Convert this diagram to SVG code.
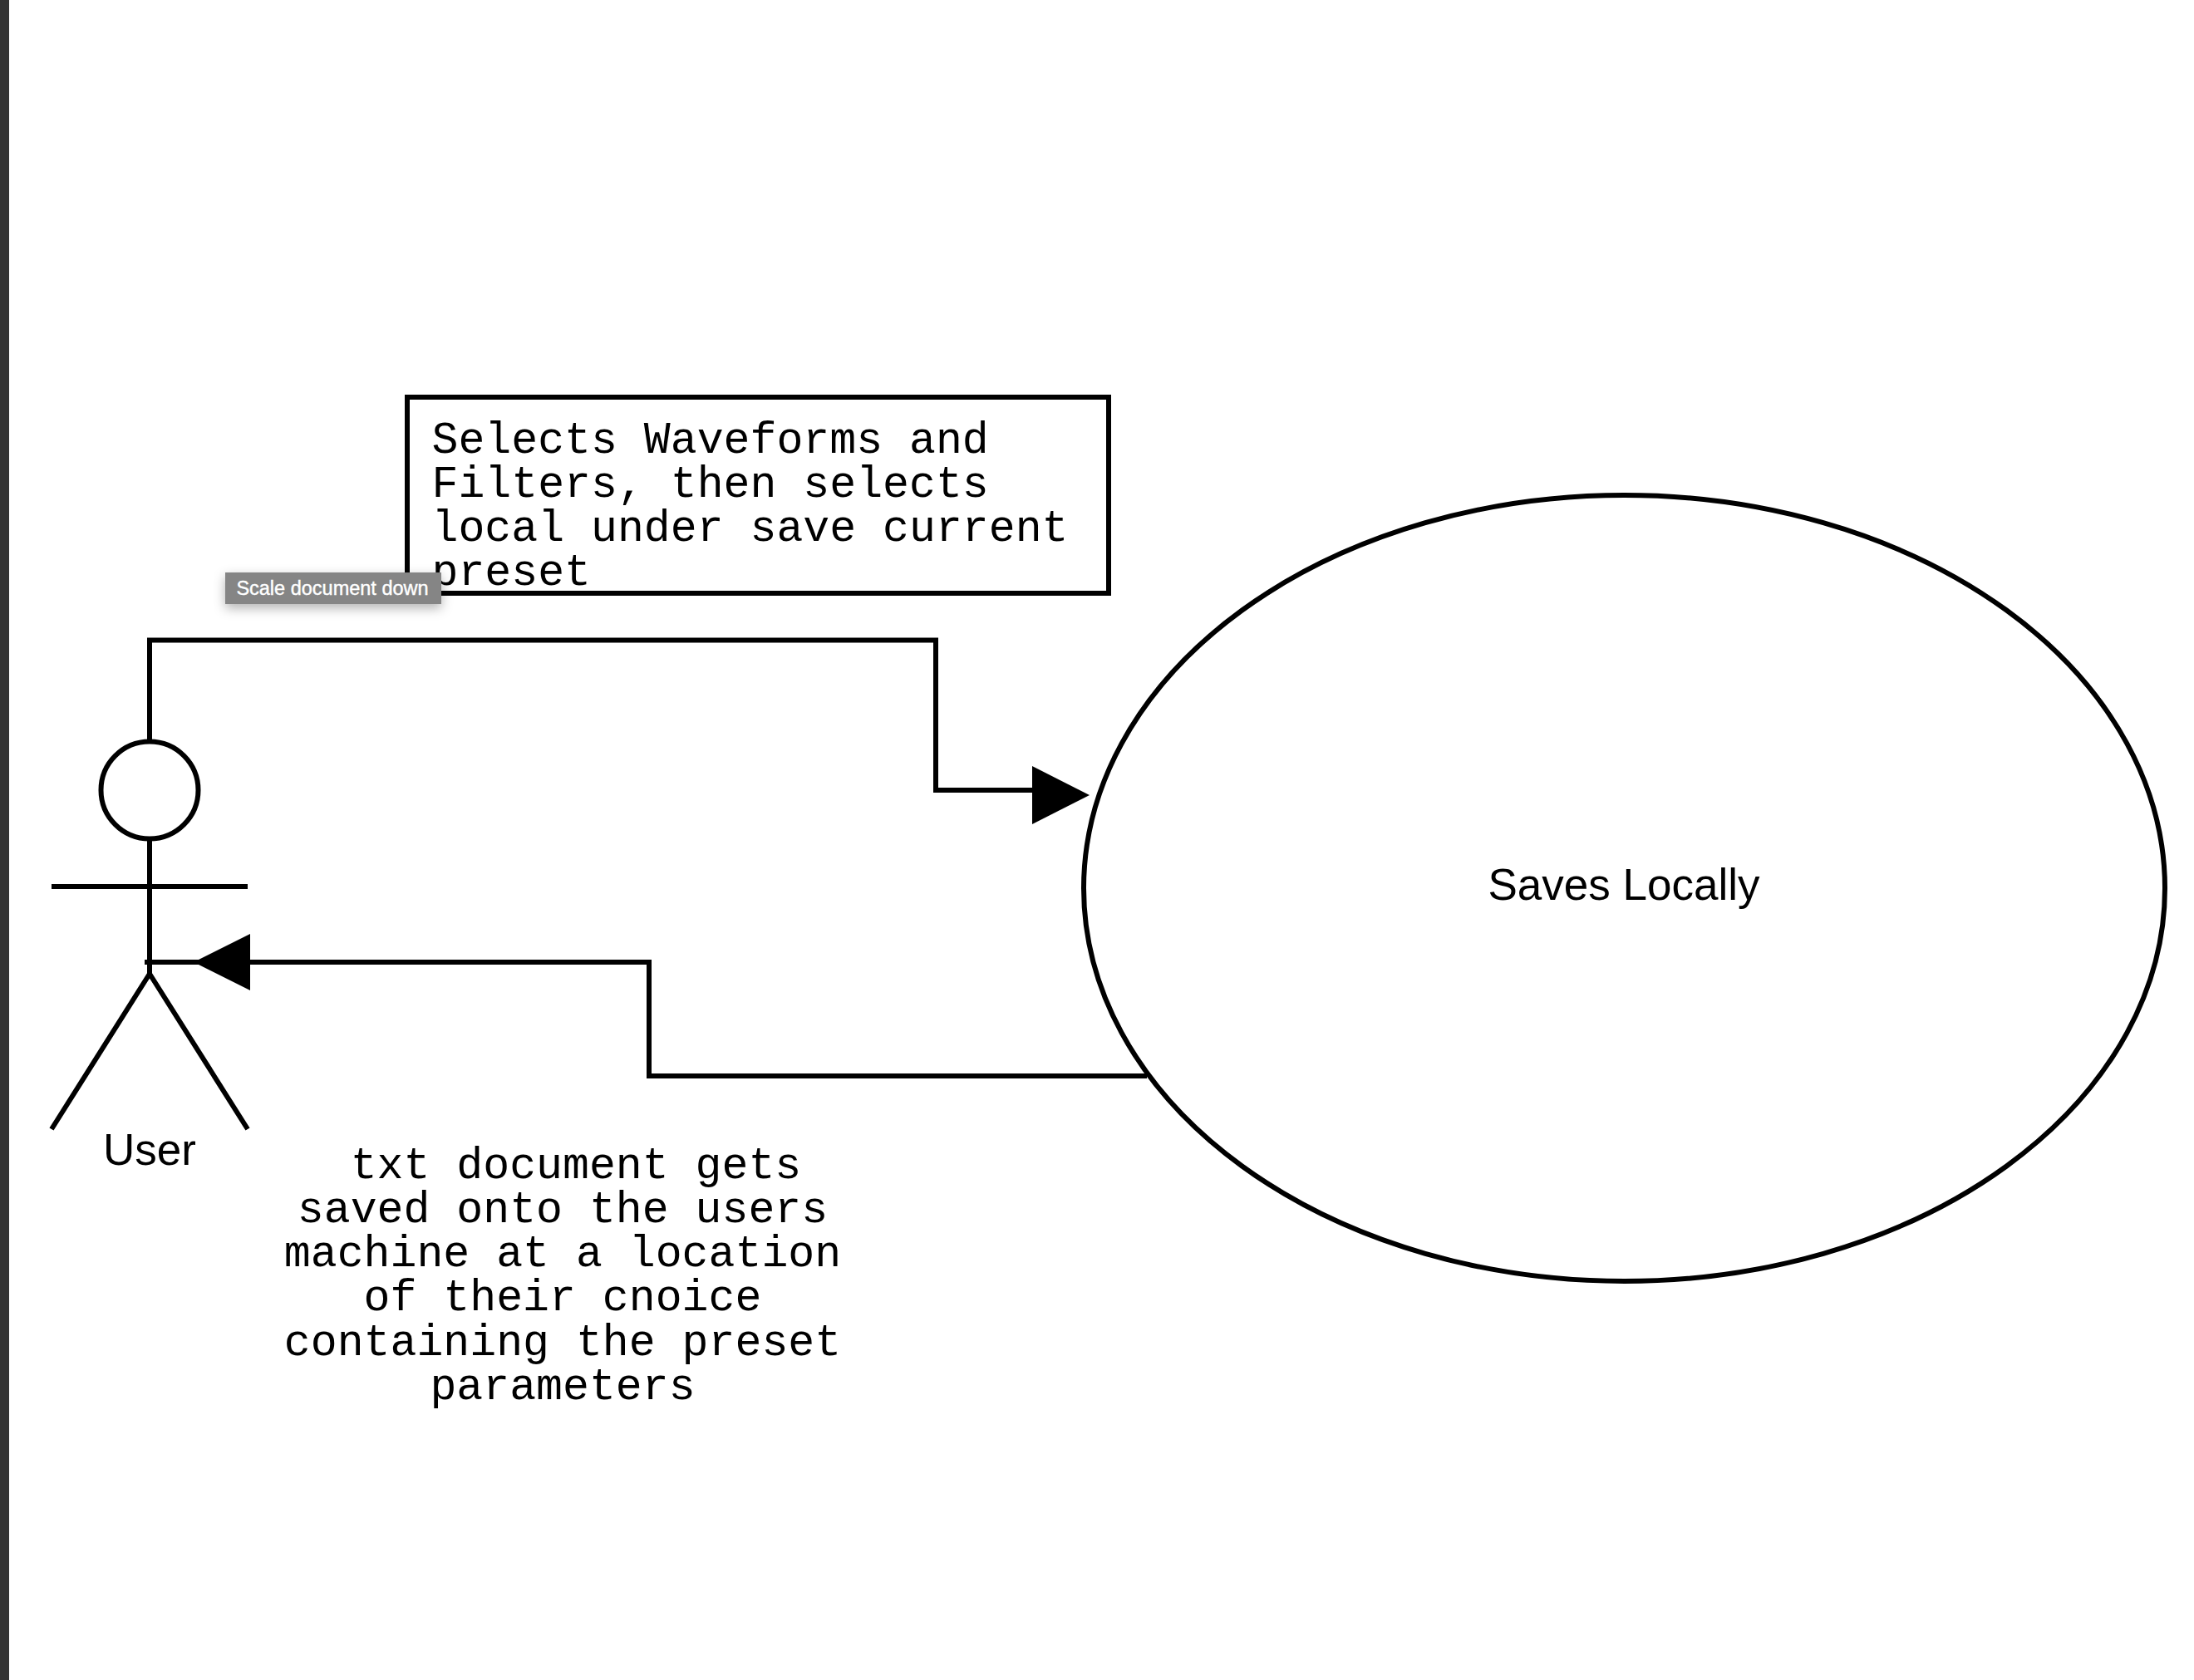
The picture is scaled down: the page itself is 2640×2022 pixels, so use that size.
<svg xmlns="http://www.w3.org/2000/svg" width="2640" height="2022" viewBox="0 0 2640 2022">
<defs>
<style>
.ln{fill:none;stroke:#000;stroke-width:6}
.sh{fill:#fff;stroke:#000;stroke-width:6}
.mono{font-family:"Liberation Mono",monospace;font-size:53.2px;fill:#000}
.sans{font-family:"Liberation Sans",Arial,sans-serif;font-size:53px;fill:#000;text-anchor:middle}
.mid{text-anchor:middle}
</style>
<filter id="shadow" x="-20%" y="-50%" width="140%" height="220%"><feDropShadow dx="0" dy="5" stdDeviation="7" flood-color="#000" flood-opacity="0.3"/></filter>
</defs>
<rect width="2640" height="2022" fill="#fff"/>
<rect id="edge" width="11" height="2022" fill="#333"/>
<g id="connectors">
<path class="ln" d="M180 891V770.500H1126V951H1245"/>
<polygon points="1242,922 1311,957 1242,992" fill="#000"/>
<path class="ln" d="M1380 1295H781V1158H174"/>
<polygon points="301,1124 233,1158 301,1192" fill="#000"/>
</g>
<g id="note-top">
<rect class="sh" x="490" y="478" width="844" height="236"/>
<text class="mono" x="519.500" y="545">Selects Waveforms and</text>
<text class="mono" x="519.500" y="598">Filters, then selects</text>
<text class="mono" x="519.500" y="651">local under save current</text>
<text class="mono" x="519.500" y="704">preset</text>
</g>
<g id="user">
<circle class="ln" cx="180" cy="951" r="58.500"/>
<path class="ln" d="M180 1010V1172M62 1067H298M62 1359L180 1172L298 1359"/>
<text class="sans" x="180" y="1402">User</text>
</g>
<g id="saves-locally">
<ellipse class="sh" cx="1954.500" cy="1069" rx="650.500" ry="473"/>
<text class="sans" x="1954" y="1083">Saves Locally</text>
</g>
<g id="note-bottom">
<text class="mono mid" x="677" y="1418">&#160;txt document gets</text>
<text class="mono mid" x="677" y="1471">saved onto the users</text>
<text class="mono mid" x="677" y="1524">machine at a location</text>
<text class="mono mid" x="677" y="1577">of their cnoice</text>
<text class="mono mid" x="677" y="1631">containing the preset</text>
<text class="mono mid" x="677" y="1684">parameters</text>
</g>
<g id="tooltip">
<rect x="271" y="689" width="260" height="38" fill="#858585" filter="url(#shadow)"/>
<text x="400" y="716" fill="#fff" stroke="#fff" stroke-width="0.4" text-anchor="middle" font-family="'Liberation Sans',Arial,sans-serif" font-size="23.500px">Scale document down</text>
</g>
</svg>
